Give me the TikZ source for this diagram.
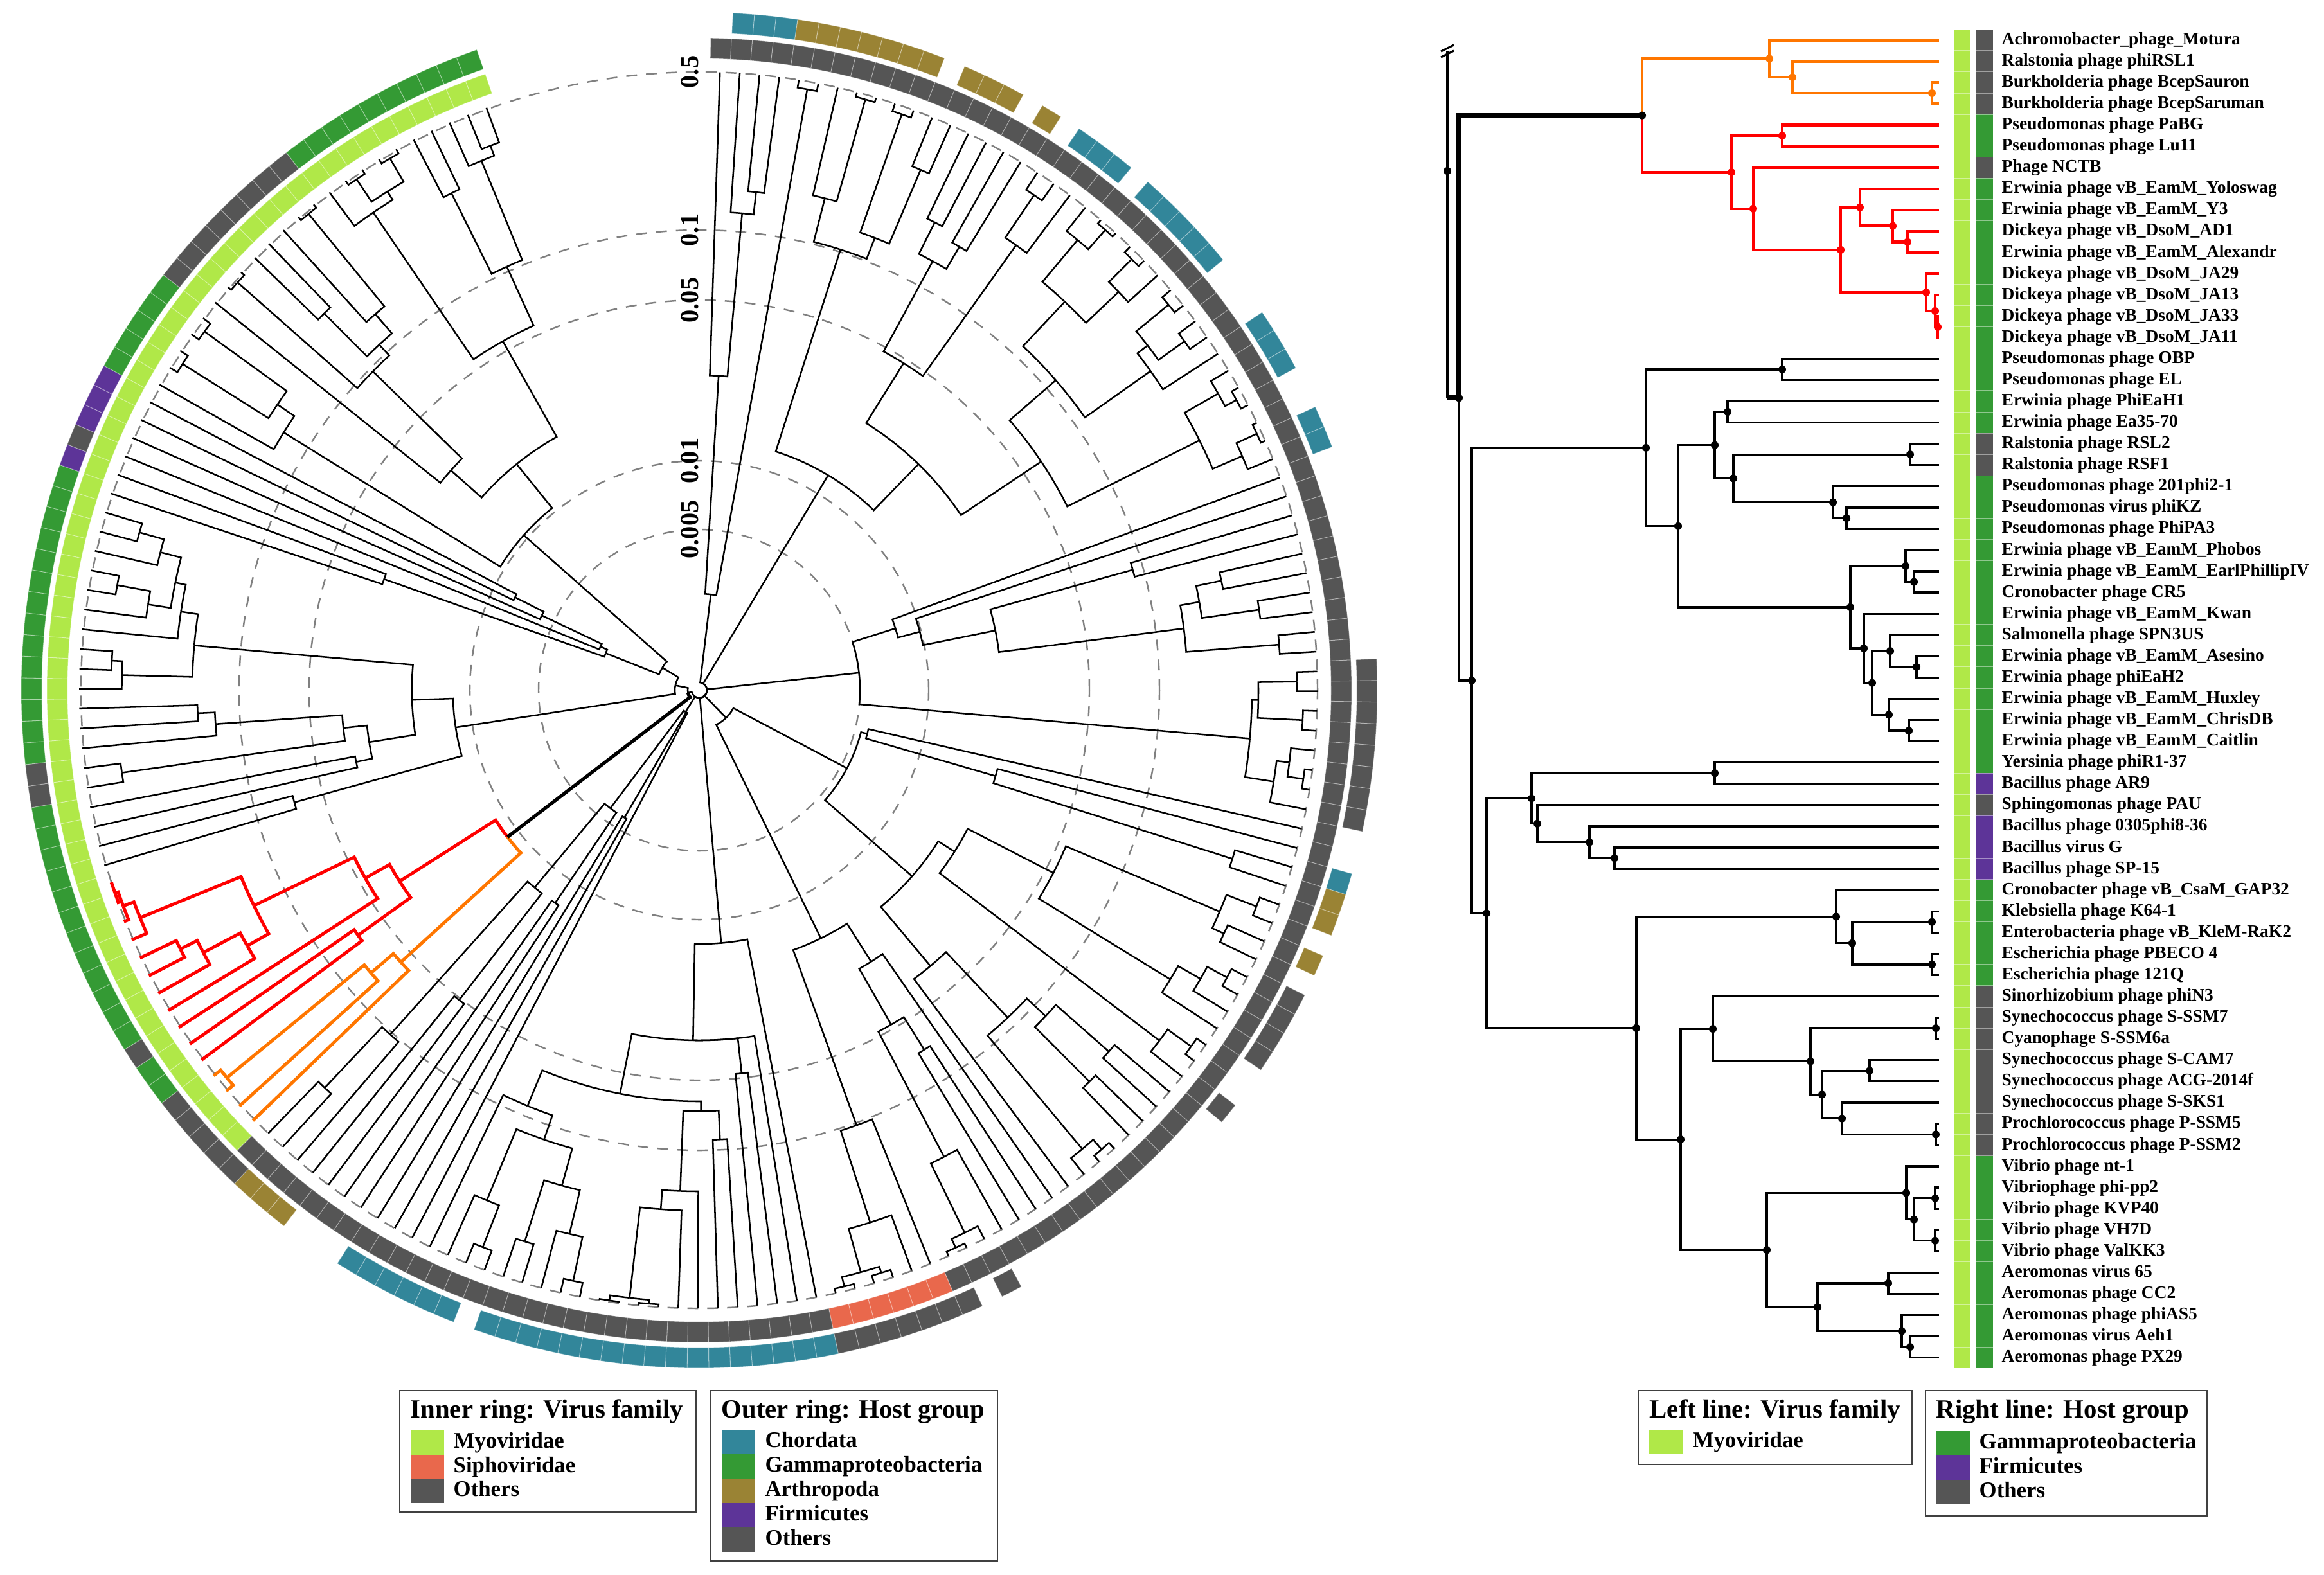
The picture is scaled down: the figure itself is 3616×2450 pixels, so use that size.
\documentclass[tikz,border=0pt]{standalone}
\usepackage{fontspec}
\setmainfont{Liberation Serif}
\definecolor{myo}{RGB}{176,232,72}
\definecolor{gam}{RGB}{52,154,52}
\definecolor{oth}{RGB}{85,85,85}
\definecolor{chor}{RGB}{50,134,154}
\definecolor{arth}{RGB}{154,131,52}
\definecolor{firm}{RGB}{93,52,152}
\definecolor{sipho}{RGB}{233,104,76}
\definecolor{tred}{RGB}{255,0,0}
\definecolor{tora}{RGB}{255,118,0}
\makeatletter
\def\mapid{\def\nd@map##1{\edef\nd@dep{##1}}}
\def\mapmyo{\def\nd@map##1{\pgfmathsetmacro\nd@dep{max(18,372+1.275*(##1-2552))}}}
\mapid
\newcommand\Nd[4][ebk]{%
  \nd@map{#3}\let\nd@d\nd@dep
  \gdef\nd@first{}\gdef\nd@last{}%
  \foreach \ndc in {#4}{%
    \xdef\nd@tmp{\csname ndP@\ndc\endcsname}%
    \ifx\nd@first\@empty\global\let\nd@first\nd@tmp\fi
    \global\let\nd@last\nd@tmp
  }%
  \pgfmathsetmacro\nd@p{(\nd@first+\nd@last)/2}%
  \expandafter\xdef\csname ndP@#2\endcsname{\nd@p}%
  \expandafter\xdef\csname ndD@#2\endcsname{\nd@d}%
  \expandafter\xdef\csname ndS@#2\endcsname{#1}%
  \foreach \ndc in {#4}{%
    \edef\nd@pc{\csname ndP@\ndc\endcsname}%
    \edef\nd@dc{\csname ndD@\ndc\endcsname}%
    \ifcsname ndS@\ndc\endcsname\edef\nd@sc{\csname ndS@\ndc\endcsname}\else\def\nd@sc{#1}\fi
    \nd@edge
  }%
  \nd@dot{#1}%
}
\def\nd@edgecirc{%
  \pgfmathsetmacro\nd@an{88.08-1.837*(\nd@p-1)}%
  \pgfmathsetmacro\nd@ac{88.08-1.837*(\nd@pc-1)}%
  \edef\nd@do{\noexpand\draw[\nd@sc] (\nd@an:\nd@d) arc[start angle=\nd@an,end angle=\nd@ac,radius=\nd@d] -- (\nd@ac:\nd@dc);}%
  \nd@do}
\def\nd@edgerect{%
  \pgfmathsetmacro\nd@yn{62.3+33.07*(\nd@p-1)}%
  \pgfmathsetmacro\nd@yc{62.3+33.07*(\nd@pc-1)}%
  \edef\nd@do{\noexpand\draw[\nd@sc] (\nd@d,\nd@yn) -- (\nd@d,\nd@yc) -- (\nd@dc,\nd@yc);}%
  \nd@do}
\def\nd@dotrect#1{\pgfmathsetmacro\nd@yn{62.3+33.07*(\nd@p-1)}\fill[dot#1] (\nd@d,\nd@yn) circle[radius=6];}
\def\nd@dotnone#1{}
\newcommand\ringseg[4]{%
  \pgfmathsetmacro\rs@s{88.08-1.837*(#1-1)+0.9185}%
  \pgfmathsetmacro\rs@e{\rs@s-1.837}%
  \fill[fill=#4, draw=white, draw opacity=0.35, line width=0.3pt] (\rs@s:#2) arc[start angle=\rs@s,end angle=\rs@e,radius=#2] -- (\rs@e:#3) arc[start angle=\rs@e,end angle=\rs@s,radius=#3] -- cycle;}
\def\MyoTree{%
\Nd[eora]{o3}{3006}{m3,m4}%
\Nd[eora]{o2}{2789}{m2,o3}%
\Nd[eora]{o}{2753}{m1,o2}%
\Nd[ered]{r1}{2773}{m5,m6}%
\Nd[ered]{r6}{2968}{m10,m11}%
\Nd[ered]{r5}{2945}{m9,r6}%
\Nd[ered]{r4}{2894}{m8,r5}%
\Nd[ered]{r9}{3015}{m14,m15}%
\Nd[ered]{r8}{3011}{m13,r9}%
\Nd[ered]{r7}{2997}{m12,r8}%
\Nd[ered]{r3}{2864}{r4,r7}%
\Nd[ered]{r2}{2728}{m7,r3}%
\Nd[ered]{r}{2694}{r1,r2}%
\Nd[ethick]{j}{2555}{o,r}%
\Nd{ma}{2773}{m16,m17}%
\Nd{e1}{2688}{m18,m19}%
\Nd{e2}{2972}{m20,m21}%
\Nd{e3}{2873}{m23,m24}%
\Nd{e4}{2852}{m22,e3}%
\Nd{e5}{2697}{e2,e4}%
\Nd{e6}{2668}{e1,e5}%
\Nd{f1}{2978}{m26,m27}%
\Nd{f2}{2965}{m25,f1}%
\Nd{f3}{2982}{m30,m31}%
\Nd{f4}{2941}{m29,f3}%
\Nd{f5}{2970}{m33,m34}%
\Nd{f6}{2939}{m32,f5}%
\Nd{f7}{2913}{f4,f6}%
\Nd{f8}{2900}{m28,f7}%
\Nd{f9}{2879}{f2,f8}%
\Nd{x}{2611}{e6,f9}%
\Nd{mm}{2561}{ma,x}%
\Nd{g1}{2668}{m35,m36}%
\Nd{g2}{2512}{m39,m40}%
\Nd{g3}{2473}{m38,g2}%
\Nd{g4}{2392}{m37,g3}%
\Nd{g5}{2383}{g1,g4}%
\Nd{h1}{3006}{m42,m43}%
\Nd{h2}{3006}{m44,m45}%
\Nd{h3}{2882}{h1,h2}%
\Nd{h4}{2857}{m41,h3}%
\Nd{k1}{3012}{m47,m48}%
\Nd{k2}{2909}{m49,m50}%
\Nd{k3}{3012}{m52,m53}%
\Nd{k4}{2866}{m51,k3}%
\Nd{k5}{2835}{k2,k4}%
\Nd{k6}{2817}{k1,k5}%
\Nd{k7}{2665}{m46,k6}%
\Nd{v1}{3011}{m55,m56}%
\Nd{v2}{3011}{m57,m58}%
\Nd{v3}{2978}{v1,v2}%
\Nd{v4}{2966}{m54,v3}%
\Nd{a1}{2938}{m59,m60}%
\Nd{a2}{2972}{m62,m63}%
\Nd{a3}{2959}{m61,a2}%
\Nd{a4}{2828}{a1,a3}%
\Nd{v5}{2749}{v4,a4}%
\Nd{k8}{2615}{k7,v5}%
\Nd{h5}{2546}{h4,k8}%
\Nd{bb4}{2313}{g5,h5}%
\Nd{bb3}{2290}{mm,bb4}%
\Nd{bb2}{2270}{j,bb3}%
}
\tikzset{
  legtitle/.style={anchor=base west, inner sep=0, font=\fontsize{11.6}{13}\selectfont\bfseries},
  legitem/.style={anchor=west, inner sep=0, font=\fontsize{9.9}{11}\selectfont\bfseries, text height=7pt, text depth=2pt},
  legbox/.style={line width=0.6pt, draw=black!75},
  leaflab/.style={anchor=west, inner sep=0, font=\fontsize{7.8}{9}\selectfont\bfseries, text height=5.6pt, text depth=1.6pt},
  axlab/.style={rotate=90, inner sep=0, font=\fontsize{11.5}{13}\selectfont\bfseries},
  grid circle/.style={draw=black!50, line width=0.7pt, dash pattern=on 4.8pt off 4pt}
}
\begin{document}
\begin{tikzpicture}[x=0.1mm,y=-0.1mm]
\useasboundingbox (0,0) rectangle (3616,2450);
% ---------------- circular tree ----------------
\begin{scope}[shift={(1088,1074)}, y=0.1mm,
  ebk/.style={line width=0.72pt, black},
  ered/.style={line width=1.4pt, tred},
  eora/.style={line width=1.4pt, tora},
  ethick/.style={line width=1.5pt, black}]
  \foreach \rr in {962,716,607,357,250} \draw[grid circle] (0,0) circle[radius=\rr];
  % rings
  \foreach \a/\b/\col in {1/85/oth,86/91/sipho,92/122/oth,123/185/myo}{%
    \foreach \n in {\a,...,\b}{\ringseg{\n}{983}{1015}{\col}}}
  \foreach \a/\b/\col in {2/4/chor,5/11/arth,13/15/arth,17/17/arth,19/21/chor,23/27/chor,31/33/chor,36/37/chor,48/55/oth,58/58/chor,59/60/arth,62/62/arth,64/67/oth,70/70/oth,83/83/oth,85/91/oth,92/108/chor,110/115/chor,119/121/arth,122/126/oth,127/128/gam,129/129/oth,130/141/gam,142/143/oth,144/157/gam,158/158/firm,159/159/oth,160/162/firm,163/167/gam,168/175/oth,176/185/gam}{%
    \foreach \n in {\a,...,\b}{\ringseg{\n}{1023}{1055}{\col}}}
  % tree
  \let\nd@edge\nd@edgecirc \let\nd@dot\nd@dotnone
  \foreach \i in {1,...,122}{\expandafter\xdef\csname ndP@\i\endcsname{\i}\expandafter\xdef\csname ndD@\i\endcsname{962}}
  \foreach \i in {1,...,63}{\pgfmathtruncatemacro\nn{122+\i}\expandafter\xdef\csname ndP@m\i\endcsname{\nn}\expandafter\xdef\csname ndD@m\i\endcsname{965}}
  \mapid
  \Nd{t1}{780}{3,4}
  \Nd{t2}{745}{2,t1}
  \Nd{t3}{490}{1,t2}
  \Nd{t4}{950}{5,6}
  \Nd{T}{150}{t3,t4}
  \Nd{b1a}{955}{8,9}
  \Nd{b1b}{950}{10,11}
  \Nd{b1c}{880}{12,13}
  \Nd{b1d}{755}{b1b,b1c}
  \Nd{b1e}{790}{7,b1a}
  \Nd{B1}{720}{b1e,b1d}
  \Nd{b2a}{815}{14,15}
  \Nd{b2b}{800}{16,17}
  \Nd{b2c}{760}{b2a,b2b}
  \Nd{b2d}{930}{18,19}
  \Nd{b2e}{850}{b2d,20}
  \Nd{B2}{600}{b2c,b2e}
  \Nd{b3a}{955}{22,23}
  \Nd{b3b}{915}{21,b3a}
  \Nd{b3c}{950}{24,25}
  \Nd{b3d}{900}{b3c,26}
  \Nd{b3e}{830}{b3b,b3d}
  \Nd{b3f}{945}{27,28}
  \Nd{b3g}{930}{29,30}
  \Nd{b3h}{880}{b3f,b3g}
  \Nd{b3i}{860}{b3h,31}
  \Nd{b3j}{735}{b3e,b3i}
  \Nd{b3k}{950}{33,34}
  \Nd{b3l}{930}{32,b3k}
  \Nd{b3m}{955}{35,36}
  \Nd{b3n}{920}{b3m,37}
  \Nd{b3o}{870}{b3l,b3n}
  \Nd{B3}{640}{b3j,b3o}
  \Nd{B23}{490}{B2,B3}
  \Nd{B}{390}{B1,B23}
  \Nd{rA}{700}{40,41}
  \Nd{rB}{830}{42,43}
  \Nd{rC}{880}{44,45}
  \Nd{rD}{790}{rB,rC}
  \Nd{rE}{905}{46,47}
  \Nd{rF}{760}{rD,rE}
  \Nd{rG}{470}{rA,rF}
  \Nd{rH}{355}{39,rG}
  \Nd{rI}{320}{38,rH}
  \Nd{rJ}{930}{48,49}
  \Nd{rK}{940}{50,51}
  \Nd{rL}{870}{rJ,rK}
  \Nd{rM}{950}{53,54}
  \Nd{rN}{925}{52,rM}
  \Nd{rO}{905}{rN,55}
  \Nd{rP}{860}{rL,rO}
  \Nd{R}{250}{rI,rP}
  \Nd{s1}{870}{58,59}
  \Nd{s2}{480}{57,s1}
  \Nd{s3}{270}{56,s2}
  \Nd{s4}{930}{60,61}
  \Nd{s5}{900}{62,63}
  \Nd{s6}{880}{s4,s5}
  \Nd{s7}{935}{64,65}
  \Nd{s8}{900}{s7,66}
  \Nd{s9}{860}{s8,67}
  \Nd{s10}{620}{s6,s9}
  \Nd{s11}{945}{68,69}
  \Nd{s12}{900}{s11,70}
  \Nd{s13}{470}{s10,s12}
  \Nd{s14}{850}{71,72}
  \Nd{s15}{860}{73,74}
  \Nd{s16}{740}{s14,s15}
  \Nd{s17}{950}{75,76}
  \Nd{s18}{930}{s17,77}
  \Nd{s19}{700}{s16,s18}
  \Nd{s20}{560}{s19,78}
  \Nd{s21}{440}{s13,s20}
  \Nd{s22}{260}{s3,s21}
  \Nd{s23}{955}{84,85}
  \Nd{s24}{940}{83,s23}
  \Nd{s25}{820}{82,s24}
  \Nd{s26}{660}{80,81}
  \Nd{s27}{600}{s26,s25}
  \Nd{s28}{500}{79,s27}
  \Nd{u1}{950}{88,89}
  \Nd{u2}{955}{90,91}
  \Nd{u3}{940}{u1,u2}
  \Nd{u4}{870}{87,u3}
  \Nd{u5}{720}{86,u4}
  \Nd{s29}{430}{s28,u5}
  \Nd{S}{60}{s22,s29}
  \Nd{u8}{958}{100,101}
  \Nd{u9}{960}{102,103}
  \Nd{u10}{952}{u8,u9}
  \Nd{u11}{810}{99,u10}
  \Nd{u12}{780}{98,u11}
  \Nd{u13}{700}{96,97}
  \Nd{u14}{655}{u13,u12}
  \Nd{u15}{940}{104,105}
  \Nd{u16}{870}{106,u15}
  \Nd{u17}{900}{107,108}
  \Nd{u18}{800}{u16,u17}
  \Nd{u19}{930}{109,110}
  \Nd{u20}{860}{u19,111}
  \Nd{u21}{740}{u18,u20}
  \Nd{u22}{700}{u21,112}
  \Nd{u23}{640}{u14,u22}
  \Nd{u24}{600}{94,95}
  \Nd{u25}{545}{93,u24,u23}
  \Nd{U}{395}{92,u25}
  \Nd{w1}{850}{121,122}
  \Nd{w2}{720}{120,w1}
  \Nd{w3}{610}{118,119}
  \Nd{w4}{400}{w3,w2}
  \Nd{w5}{400}{116,117}
  \Nd{w6}{230}{w5,w4}
  \Nd{w7}{230}{114,115}
  \Nd{W}{40}{113,w7,w6}
  \mapmyo
  \MyoTree
  \mapid
  \Nd{root}{12}{T,B,R,S,U,W,bb2}
\end{scope}
\node[axlab] (ax1) at (1073,112) {0.5};
\node[axlab] (ax2) at (1073,358) {0.1};
\node[axlab] (ax3) at (1073,467) {0.05};
\node[axlab] (ax4) at (1073,717) {0.01};
\node[axlab] (ax5) at (1073,824) {0.005};
% ---------------- rectangular tree ----------------
\begin{scope}[
  ebk/.style={line width=0.95pt, black},
  ered/.style={line width=1.3pt, tred},
  eora/.style={line width=1.3pt, tora},
  ethick/.style={line width=2.1pt, black},
  dotebk/.style={black}, dotered/.style={tred}, doteora/.style={tora}, dotethick/.style={black}]
  \let\nd@edge\nd@edgerect \let\nd@dot\nd@dotrect
  \foreach \i in {1,...,63}{\expandafter\xdef\csname ndP@m\i\endcsname{\i}\expandafter\xdef\csname ndD@m\i\endcsname{3017}}
  \mapid
  \MyoTree
  \draw[ebk] (2252,80) -- (2252,619);
  \draw[ethick] (2252,619) -- (2270,619);
  \fill (2252,266) circle[radius=6];
  \draw[line width=0.9pt] (2242,80) -- (2262,70);
  \draw[line width=0.9pt] (2242,89) -- (2262,79);
  % columns
  \foreach \k in {1,...,63}{%
    \pgfmathsetmacro\yt{45.8+33.07*(\k-1)}\pgfmathsetmacro\yb{\yt+33.07}%
    \fill[myo] (3040,\yt) rectangle (3065,\yb);}
  \foreach \a/\b/\col in {1/4/oth,5/6/gam,7/7/oth,8/19/gam,20/21/oth,22/35/gam,36/36/firm,37/37/oth,38/40/firm,41/45/gam,46/53/oth,54/63/gam}{%
    \foreach \k in {\a,...,\b}{%
      \pgfmathsetmacro\yt{45.8+33.07*(\k-1)}\pgfmathsetmacro\yb{\yt+33.07}%
      \fill[fill=\col] (3074,\yt) rectangle (3101,\yb);}}
  \foreach \k in {2,...,63}{%
    \pgfmathsetmacro\yt{45.8+33.07*(\k-1)}%
    \draw[white, line width=0.3pt, opacity=0.45] (3040,\yt) -- (3065,\yt) (3074,\yt) -- (3101,\yt);}
  \foreach \k/\t in {1/Achromobacter\_phage\_Motura,2/Ralstonia phage phiRSL1,3/Burkholderia phage BcepSauron,4/Burkholderia phage BcepSaruman,5/Pseudomonas phage PaBG,6/Pseudomonas phage Lu11,7/Phage NCTB,8/Erwinia phage vB\_EamM\_Yoloswag,9/Erwinia phage vB\_EamM\_Y3,10/Dickeya phage vB\_DsoM\_AD1,11/Erwinia phage vB\_EamM\_Alexandr,12/Dickeya phage vB\_DsoM\_JA29,13/Dickeya phage vB\_DsoM\_JA13,14/Dickeya phage vB\_DsoM\_JA33,15/Dickeya phage vB\_DsoM\_JA11,16/Pseudomonas phage OBP,17/Pseudomonas phage EL,18/Erwinia phage PhiEaH1,19/Erwinia phage Ea35-70,20/Ralstonia phage RSL2,21/Ralstonia phage RSF1,22/Pseudomonas phage 201phi2-1,23/Pseudomonas virus phiKZ,24/Pseudomonas phage PhiPA3,25/Erwinia phage vB\_EamM\_Phobos,26/Erwinia phage vB\_EamM\_EarlPhillipIV,27/Cronobacter phage CR5,28/Erwinia phage vB\_EamM\_Kwan,29/Salmonella phage SPN3US,30/Erwinia phage vB\_EamM\_Asesino,31/Erwinia phage phiEaH2,32/Erwinia phage vB\_EamM\_Huxley,33/Erwinia phage vB\_EamM\_ChrisDB,34/Erwinia phage vB\_EamM\_Caitlin,35/Yersinia phage phiR1-37,36/Bacillus phage AR9,37/Sphingomonas phage PAU,38/Bacillus phage 0305phi8-36,39/Bacillus virus G,40/Bacillus phage SP-15,41/Cronobacter phage vB\_CsaM\_GAP32,42/Klebsiella phage K64-1,43/Enterobacteria phage vB\_KleM-RaK2,44/Escherichia phage PBECO 4,45/Escherichia phage 121Q,46/Sinorhizobium phage phiN3,47/Synechococcus phage S-SSM7,48/Cyanophage S-SSM6a,49/Synechococcus phage S-CAM7,50/Synechococcus phage ACG-2014f,51/Synechococcus phage S-SKS1,52/Prochlorococcus phage P-SSM5,53/Prochlorococcus phage P-SSM2,54/Vibrio phage nt-1,55/Vibriophage phi-pp2,56/Vibrio phage KVP40,57/Vibrio phage VH7D,58/Vibrio phage ValKK3,59/Aeromonas virus 65,60/Aeromonas phage CC2,61/Aeromonas phage phiAS5,62/Aeromonas virus Aeh1,63/Aeromonas phage PX29}{%
    \node[leaflab] (lab\k) at (3114,{62.3+33.07*(\k-1)}) {\t};}
\end{scope}
% ---------------- legends ----------------
\draw[legbox] (622,2164) rectangle (1083,2353);
\node[legtitle] (l1t) at (638,2206) {Inner ring: Virus family};
\fill[myo] (640,2226) rectangle (691,2264); \node[legitem] (l1a) at (705,2245) {Myoviridae};
\fill[sipho] (640,2264) rectangle (691,2301); \node[legitem] (l1b) at (705,2282.5) {Siphoviridae};
\fill[oth] (640,2301) rectangle (691,2339); \node[legitem] (l1c) at (705,2320) {Others};

\draw[legbox] (1106,2164) rectangle (1552,2429);
\node[legtitle] (l2t) at (1122,2206) {Outer ring: Host group};
\fill[chor] (1123,2225) rectangle (1175,2263); \node[legitem] (l2a) at (1190,2244) {Chordata};
\fill[gam] (1123,2263) rectangle (1175,2301); \node[legitem] (l2b) at (1190,2282) {Gammaproteobacteria};
\fill[arth] (1123,2301) rectangle (1175,2339); \node[legitem] (l2c) at (1190,2320) {Arthropoda};
\fill[firm] (1123,2339) rectangle (1175,2377); \node[legitem] (l2d) at (1190,2358) {Firmicutes};
\fill[oth] (1123,2377) rectangle (1175,2415); \node[legitem] (l2e) at (1190,2396) {Others};

\draw[legbox] (2549,2164) rectangle (2975,2279);
\node[legtitle] (l3t) at (2566,2206) {Left line: Virus family};
\fill[myo] (2566,2225) rectangle (2619,2263); \node[legitem] (l3a) at (2633,2244) {Myoviridae};

\draw[legbox] (2996,2164) rectangle (3434,2359);
\node[legtitle] (l4t) at (3012,2206) {Right line: Host group};
\fill[gam] (3012,2227) rectangle (3065,2265); \node[legitem] (l4a) at (3079,2246) {Gammaproteobacteria};
\fill[firm] (3012,2265) rectangle (3065,2303); \node[legitem] (l4b) at (3079,2284) {Firmicutes};
\fill[oth] (3012,2303) rectangle (3065,2341); \node[legitem] (l4c) at (3079,2322) {Others};
\end{tikzpicture}
\end{document}
